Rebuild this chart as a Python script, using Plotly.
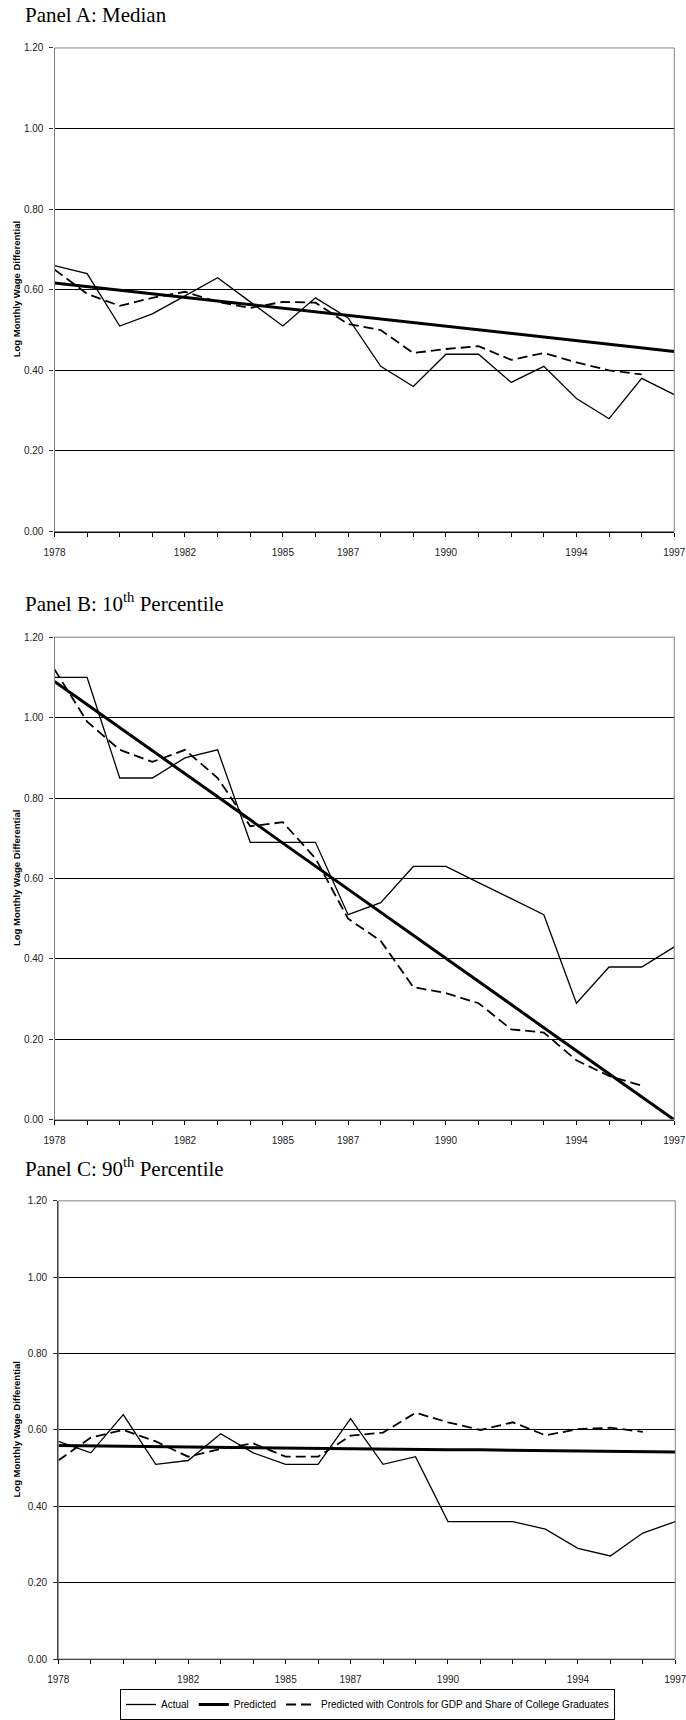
import plotly.graph_objects as go

years = list(range(1978, 1998))
labeled_years = [1978, 1982, 1985, 1987, 1990, 1994, 1997]
y_ticks = [0.0, 0.2, 0.4, 0.6, 0.8, 1.0, 1.2]

a_actual = [0.66, 0.64, 0.51, 0.54, 0.585, 0.63, 0.57, 0.51, 0.58, 0.53,
            0.41, 0.36, 0.44, 0.44, 0.37, 0.41, 0.33, 0.28, 0.38, 0.34]
a_pred = [0.617, 0.608, 0.599, 0.590, 0.581, 0.572, 0.563, 0.554, 0.545, 0.536,
          0.527, 0.518, 0.509, 0.500, 0.491, 0.482, 0.473, 0.464, 0.455, 0.447]
a_ctrl = [0.65, 0.59, 0.56, 0.58, 0.595, 0.57, 0.555, 0.57, 0.568, 0.515,
          0.50, 0.443, 0.453, 0.46, 0.426, 0.443, 0.42, 0.40, 0.39, None]

b_actual = [1.10, 1.10, 0.85, 0.85, 0.90, 0.92, 0.69, 0.69, 0.69, 0.51,
            0.54, 0.63, 0.63, 0.59, 0.55, 0.51, 0.29, 0.38, 0.38, 0.43]
b_pred = [1.090, 1.033, 0.975, 0.918, 0.861, 0.803, 0.746, 0.688, 0.631, 0.574,
          0.516, 0.459, 0.402, 0.344, 0.287, 0.229, 0.172, 0.115, 0.057, 0.000]
b_ctrl = [1.12, 0.99, 0.92, 0.89, 0.92, 0.85, 0.73, 0.74, 0.65, 0.50,
          0.445, 0.33, 0.315, 0.29, 0.225, 0.217, 0.148, 0.109, 0.085, None]

c_actual = [0.57, 0.54, 0.64, 0.51, 0.52, 0.59, 0.54, 0.51, 0.51, 0.63,
            0.51, 0.53, 0.36, 0.36, 0.36, 0.34, 0.29, 0.27, 0.33, 0.36]
c_pred = [0.559, 0.558, 0.557, 0.556, 0.556, 0.555, 0.554, 0.553, 0.552, 0.551,
          0.550, 0.549, 0.548, 0.548, 0.547, 0.546, 0.545, 0.544, 0.543, 0.542]
c_ctrl = [0.52, 0.58, 0.60, 0.57, 0.53, 0.55, 0.565, 0.53, 0.53, 0.585,
          0.593, 0.645, 0.62, 0.60, 0.62, 0.586, 0.602, 0.606, 0.595, None]

panel_titles = ["Panel A: Median",
                "Panel B: 10<sup>th</sup> Percentile",
                "Panel C: 90<sup>th</sup> Percentile"]
series_names = ["Actual", "Predicted",
                "Predicted with Controls for GDP and Share of College Graduates"]
y_title = "Log Monthly Wage Differential"

W, H = 686, 1720
# plot areas in pixels: (left, right, top, bottom)
areas = [(54.5, 674.3, 48.3, 535.3),
         (54.5, 674.3, 641.7, 1127.7),
         (58.3, 675.3, 1209.3, 1670.7)]
title_y = [15, 607, 1176]

panels = [(a_actual, a_pred, a_ctrl), (b_actual, b_pred, b_ctrl), (c_actual, c_pred, c_ctrl)]

fig = go.Figure()
SANS = "Liberation Sans, Arial, sans-serif"
SERIF = "Liberation Serif, Times New Roman, serif"

for i, (act, pred, ctrl) in enumerate(panels):
    n = "" if i == 0 else str(i + 1)
    xa, ya = "x" + n, "y" + n
    show = (i == 2)
    fig.add_trace(go.Scatter(x=years, y=act, mode="lines", name=series_names[0],
                             line=dict(color="black", width=1.3), xaxis=xa, yaxis=ya,
                             showlegend=show))
    fig.add_trace(go.Scatter(x=years, y=pred, mode="lines", name=series_names[1],
                             line=dict(color="black", width=3), xaxis=xa, yaxis=ya,
                             showlegend=show))
    fig.add_trace(go.Scatter(x=years, y=ctrl, mode="lines", name=series_names[2],
                             line=dict(color="black", width=1.8, dash="10px,5px"),
                             xaxis=xa, yaxis=ya, showlegend=show, connectgaps=False))

    l, r, t, b = areas[i]
    xd = [l / W, r / W]
    yd = [1 - b / H, 1 - t / H]
    fig.update_layout(**{
        "xaxis" + n: dict(domain=xd, anchor=ya, range=[1978, 1997],
                          tickvals=labeled_years,
                          ticktext=[str(y) for y in labeled_years],
                          ticks="outside", ticklen=4, tickcolor="black", tickwidth=1,
                          minor=dict(tick0=1978, dtick=1, ticks="outside", ticklen=4,
                                     tickcolor="black", tickwidth=1, showgrid=False),
                          showline=True, linecolor="black", linewidth=1.3,
                          showgrid=False, zeroline=False, automargin=False,
                          tickfont=dict(family=SANS, size=10, color="#222"),
                          ticklabelstandoff=7, ticklabeloverflow="allow",
                          fixedrange=True),
        "yaxis" + n: dict(domain=yd, anchor=xa, range=[0, 1.2],
                          tickvals=y_ticks, ticktext=["%.2f" % v for v in y_ticks],
                          ticks="outside", ticklen=4, tickcolor="#333", tickwidth=1,
                          showline=True, linecolor="#333", linewidth=1.3,
                          showgrid=True, gridcolor="black", gridwidth=1,
                          zeroline=False, automargin=False,
                          tickfont=dict(family=SANS, size=10, color="#222"),
                          ticklabelstandoff=4, fixedrange=True),
    })
    # grey plot frame (top and right)
    fig.add_shape(type="rect", xref="paper", yref="paper",
                  x0=xd[0], x1=xd[1], y0=yd[0], y1=yd[1],
                  line=dict(color="#808080", width=1), layer="above")
    # panel title
    fig.add_annotation(text=panel_titles[i], xref="paper", yref="paper",
                       x=22.5 / W, y=1 - title_y[i] / H, xanchor="left", yanchor="middle",
                       showarrow=False, font=dict(family=SERIF, size=21, color="black"))
    # y axis title
    fig.add_annotation(text="<b>" + y_title + "</b>", xref="paper", yref="paper",
                       x=16.5 / W, y=1 - (t + b) / 2 / H, textangle=-90,
                       xanchor="center", yanchor="middle", showarrow=False,
                       font=dict(family=SANS, size=9.5, color="black"))

fig.update_layout(
    template="none",
    width=W, height=H, autosize=False,
    margin=dict(l=0, r=0, t=0, b=0, pad=0),
    paper_bgcolor="white", plot_bgcolor="white",
    showlegend=True,
    legend=dict(orientation="h", x=120 / W, y=1 - 1701 / H,
                xanchor="left", yanchor="top",
                bordercolor="black", borderwidth=1, bgcolor="white",
                font=dict(family=SANS, size=10, color="black"),
                itemwidth=30, tracegroupgap=0),
)

fig.write_html("out.html", config={"displayModeBar": False},
               post_script="document.body.style.margin='0px';document.body.style.overflow='hidden';")
